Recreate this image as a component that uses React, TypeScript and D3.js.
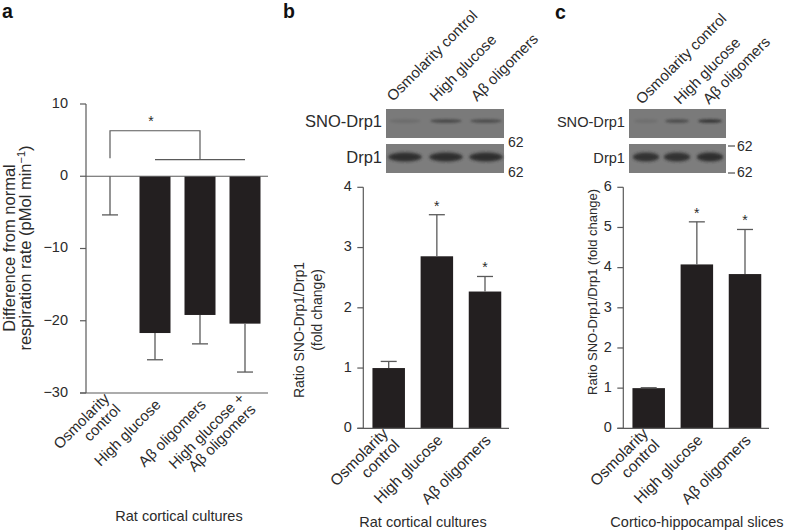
import React from "react";
import * as d3 from "d3";

// ---------- DATA ----------
const catsA = ["Osmolarity control", "High glucose", "Aβ oligomers", "High glucose + Aβ oligomers"];
const labelsA = [["Osmolarity", "control"], ["High glucose"], ["Aβ oligomers"], ["High glucose +", "Aβ oligomers"]];
const valuesA = [0, -21.7, -19.2, -20.4];
const errA = [-5.35, -25.4, -23.2, -27.1];
const ticksA = [10, 0, -10, -20, -30];

const catsBC = ["Osmolarity control", "High glucose", "Aβ oligomers"];
const labelsBC = [["Osmolarity", "control"], ["High glucose"], ["Aβ oligomers"]];
const valuesB = [1.0, 2.855, 2.27];
const errB = [1.11, 3.545, 2.52];
const sigB = [false, true, true];
const ticksB = [0, 1, 2, 3, 4];

const valuesC = [1.0, 4.08, 3.84];
const errC = [1.01, 5.14, 4.95];
const sigC = [false, true, true];
const ticksC = [0, 1, 2, 3, 4, 5, 6];

// blot band intensities (0..1) per lane
const snoB = [0.15, 0.55, 0.5];
const drpB = [0.95, 0.95, 0.95];
const snoC = [0.12, 0.5, 0.75];
const drpC = [0.9, 0.9, 0.95];

const FONT = "'Liberation Sans', Arial, Helvetica, sans-serif";
const TXT = "#2b2b2b";
const AX = "#5a5a5a";
const BAR = "#231f20";

function CatLabel({ x, y, lines, fs }: { x: number; y: number; lines: string[]; fs: number }) {
  return (
    <text
      transform={`translate(${x},${y}) rotate(-45)`}
      textAnchor="end"
      fontSize={fs}
      fill={TXT}
      fontFamily={FONT}
    >
      {lines.length === 1 ? (
        <tspan x={0} dy="0.35em">{lines[0]}</tspan>
      ) : (
        <>
          <tspan x={0} dy="-0.25em">{lines[0]}</tspan>
          <tspan x={0} dy="1.05em">{lines[1]}</tspan>
        </>
      )}
    </text>
  );
}

function Blot({ x0, x1, lanes, sno, drp, dash, labelFs }: { x0: number; x1: number; lanes: number[]; sno: number[]; drp: number[]; dash: boolean; labelFs: number }) {
  const bw = (x1 - x0) / 3 - 8;
  return (
    <g>
      <rect x={x0} y={109} width={x1 - x0} height={29} fill="#7a7a7a" />
      <rect x={x0} y={144} width={x1 - x0} height={29} fill="#7d7d7d" />
      {lanes.map((c, i) => (
        <ellipse key={"s" + i} cx={c} cy={121} rx={bw / 2} ry={2} fill="#2a2a2a" opacity={sno[i]} filter="url(#blur1)" />
      ))}
      {lanes.map((c, i) => (
        <ellipse key={"d" + i} cx={c} cy={157} rx={bw / 2 + 1} ry={4.5} fill="#2a2a2a" opacity={drp[i]} filter="url(#blur2)" />
      ))}
      <text x={dash ? x1 + 11 : x1 + 4} y={dash ? 147 : 143} fontSize={14} fill={TXT} fontFamily={FONT} dominantBaseline="middle">62</text>
      <text x={dash ? x1 + 11 : x1 + 4} y={173} fontSize={14} fill={TXT} fontFamily={FONT} dominantBaseline="middle">62</text>
      {dash && <line x1={x1 + 2} x2={x1 + 9} y1={146} y2={146} stroke={TXT} strokeWidth={1} />}
      {dash && <line x1={x1 + 2} x2={x1 + 9} y1={173} y2={173} stroke={TXT} strokeWidth={1} />}
      <text x={x0 - 4} y={123} textAnchor="end" fontSize={labelFs} fill={TXT} fontFamily={FONT} dominantBaseline="middle">SNO-Drp1</text>
      <text x={x0 - 4} y={159} textAnchor="end" fontSize={labelFs} fill={TXT} fontFamily={FONT} dominantBaseline="middle">Drp1</text>
    </g>
  );
}

function PanelA() {
  const y = d3.scaleLinear().domain([-30, 10]).range([393, 104]);
  const x = d3.scalePoint<string>().domain(catsA).range([110, 245]);
  const axX = 86;
  const bw = 31;
  return (
    <g>
      <text x={2} y={18} fontSize={19.5} fontWeight="bold" fill="#111" fontFamily={FONT}>a</text>
      <line x1={axX} x2={axX} y1={y(10)} y2={y(-30)} stroke={AX} strokeWidth={1.2} />
      {ticksA.map((t) => (
        <g key={t}>
          <line x1={axX - 6} x2={axX} y1={y(t)} y2={y(t)} stroke={AX} strokeWidth={1.2} />
          <text x={axX - 18} y={y(t)} textAnchor="end" dominantBaseline="middle" fontSize={14.5} fill={TXT} fontFamily={FONT}>
            {t < 0 ? "\u2212" + Math.abs(t) : t}
          </text>
        </g>
      ))}
      {catsA.map((c, i) => {
        const cx = x(c)!;
        return (
          <g key={c}>
            {valuesA[i] !== 0 && (
              <rect x={cx - bw / 2} y={y(0)} width={bw} height={y(valuesA[i]) - y(0)} fill={BAR} />
            )}
            <line x1={cx} x2={cx} y1={y(valuesA[i])} y2={y(errA[i])} stroke={AX} strokeWidth={1.3} />
            <line x1={cx - 8} x2={cx + 8} y1={y(errA[i])} y2={y(errA[i])} stroke={AX} strokeWidth={1.3} />
            <CatLabel x={cx + 3} y={y(-30) + 9} lines={labelsA[i]} fs={15} />
          </g>
        );
      })}
      <line x1={axX} x2={268} y1={y(0)} y2={y(0)} stroke={AX} strokeWidth={1.2} />
      <line x1={axX - 6} x2={268} y1={y(-30)} y2={y(-30)} stroke={AX} strokeWidth={1.2} />
      {/* significance bracket */}
      <path
        d={`M${x(catsA[0])},${y(2.5)} V${y(6.3)} H${x(catsA[2])} V${y(2.3)}`}
        fill="none"
        stroke={AX}
        strokeWidth={1.2}
      />
      <line x1={x(catsA[1])} x2={x(catsA[3])} y1={y(2.3)} y2={y(2.3)} stroke={AX} strokeWidth={1.2} />
      <text x={(x(catsA[0])! + x(catsA[2])!) / 2 - 4} y={y(6.3) - 5} textAnchor="middle" fontSize={14} fill={TXT} fontFamily={FONT}>*</text>
      <text transform={`translate(15,248) rotate(-90)`} textAnchor="middle" fontSize={16.5} fill={TXT} fontFamily={FONT}>
        Difference from normal
      </text>
      <text transform={`translate(31,248) rotate(-90)`} textAnchor="middle" fontSize={16.5} fill={TXT} fontFamily={FONT}>
        respiration rate (pMol min<tspan dy="-6" fontSize={11}>−1</tspan><tspan dy="6">)</tspan>
      </text>
      <text x={179} y={521} textAnchor="middle" fontSize={14.5} fill={TXT} fontFamily={FONT}>Rat cortical cultures</text>
    </g>
  );
}

function BarPanel({
  letter, letterX, letterY, axX, xs, yMax, ticks, values, errs, sig, xEnd, title, titleX,
}: {
  letter: string; letterX: number; letterY: number; axX: number; xs: [number, number]; yMax: number; ticks: number[];
  values: number[]; errs: number[]; sig: boolean[]; xEnd: number; title: string; titleX: number;
}) {
  const y = d3.scaleLinear().domain([0, yMax]).range([428.3, 187.3]);
  const x = d3.scalePoint<string>().domain(catsBC).range(xs);
  const bw = 32.5;
  return (
    <g>
      <text x={letterX} y={letterY} fontSize={19.5} fontWeight="bold" fill="#111" fontFamily={FONT}>{letter}</text>
      <line x1={axX} x2={axX} y1={y(yMax)} y2={y(0)} stroke={AX} strokeWidth={1.2} />
      {ticks.map((t) => (
        <g key={t}>
          <line x1={axX - 6} x2={axX} y1={y(t)} y2={y(t)} stroke={AX} strokeWidth={1.2} />
          <text x={axX - 11.5} y={y(t)} textAnchor="end" dominantBaseline="middle" fontSize={14.5} fill={TXT} fontFamily={FONT}>{t}</text>
        </g>
      ))}
      {catsBC.map((c, i) => {
        const cx = x(c)!;
        return (
          <g key={c}>
            <rect x={cx - bw / 2} y={y(values[i])} width={bw} height={y(0) - y(values[i])} fill={BAR} />
            <line x1={cx} x2={cx} y1={y(values[i])} y2={y(errs[i])} stroke={AX} strokeWidth={1.3} />
            <line x1={cx - 8} x2={cx + 8} y1={y(errs[i])} y2={y(errs[i])} stroke={AX} strokeWidth={1.3} />
            {sig[i] && (
              <text x={cx} y={y(errs[i]) - 4} textAnchor="middle" fontSize={14} fill={TXT} fontFamily={FONT}>*</text>
            )}
            <CatLabel x={cx + 3} y={y(0) + 9} lines={labelsBC[i]} fs={15.5} />
          </g>
        );
      })}
      <line x1={axX - 6} x2={xEnd} y1={y(0)} y2={y(0)} stroke={AX} strokeWidth={1.2} />
      <text x={titleX} y={527} textAnchor="middle" fontSize={14.5} fill={TXT} fontFamily={FONT}>{title}</text>
    </g>
  );
}

function Headers({ xs, y }: { xs: number[]; y: number }) {
  return (
    <g>
      {catsBC.map((c, i) => (
        <text key={c} transform={`translate(${xs[i]},${y}) rotate(-45)`} fontSize={15} fill={TXT} fontFamily={FONT}>{c}</text>
      ))}
    </g>
  );
}

export default function App() {
  return (
    <svg width={788} height={532} style={{ position: "absolute", left: 0, top: 0, background: "#fff" }}>
      <defs>
        <filter id="blur1" x="-20%" y="-200%" width="140%" height="500%">
          <feGaussianBlur stdDeviation="1.2" />
        </filter>
        <filter id="blur2" x="-20%" y="-100%" width="140%" height="300%">
          <feGaussianBlur stdDeviation="1.5" />
        </filter>
      </defs>
      <rect width={788} height={532} fill="#fff" />
      <PanelA />
      {/* Panel b */}
      <Headers xs={[393, 436, 477]} y={102} />
      <Blot x0={386} x1={504} lanes={[405, 446, 486]} sno={snoB} drp={drpB} dash={false} labelFs={16.5} />
      <text transform={`translate(304,330) rotate(-90)`} textAnchor="middle" fontSize={14} fill={TXT} fontFamily={FONT}>Ratio SNO-Drp1/Drp1</text>
      <text transform={`translate(322,310) rotate(-90)`} textAnchor="middle" fontSize={14} fill={TXT} fontFamily={FONT}>(fold change)</text>
      <BarPanel letter="b" letterX={283} letterY={18} axX={363.3} xs={[388.7, 485]} yMax={4} ticks={ticksB}
        values={valuesB} errs={errB} sig={sigB} xEnd={509} title="Rat cortical cultures" titleX={423} />
      {/* Panel c */}
      <Headers xs={[642, 680, 709]} y={105} />
      <Blot x0={629} x1={726} lanes={[646, 677, 710]} sno={snoC} drp={drpC} dash={true} labelFs={14.6} />
      <text transform={`translate(597,292) rotate(-90)`} textAnchor="middle" fontSize={13} fill={TXT} fontFamily={FONT}>Ratio SNO-Drp1/Drp1 (fold change)</text>
      <BarPanel letter="c" letterX={555} letterY={19} axX={623.3} xs={[648.7, 745]} yMax={6} ticks={ticksC}
        values={valuesC} errs={errC} sig={sigC} xEnd={769} title="Cortico-hippocampal slices" titleX={697} />
    </svg>
  );
}
